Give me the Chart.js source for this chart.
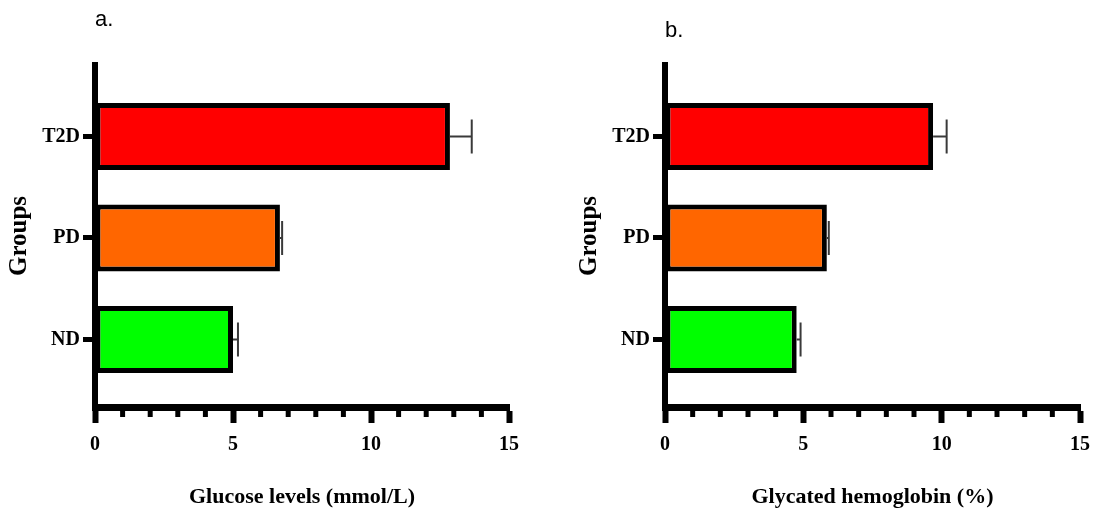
<!DOCTYPE html>
<html><head><meta charset="utf-8">
<script src="https://cdn.jsdelivr.net/npm/chart.js@4.4.0/dist/chart.umd.min.js"></script>
<style>
html,body{margin:0;padding:0;background:#fff;}
#wrap{position:relative;width:1095px;height:514px;overflow:hidden;}
.box{position:absolute;top:0;height:514px;}
#boxA{left:0;width:529px}
#boxB{left:570px;width:530px}
</style></head><body>
<div id="wrap">
  <div class="box" id="boxA"><canvas id="cA" width="529" height="514"></canvas></div>
  <div class="box" id="boxB"><canvas id="cB" width="530" height="514"></canvas></div>
</div>
<script>
// ---- data ----
const groups = ['ND', 'PD', 'T2D'];
const barColors = ['#00FF00', '#FF6600', '#FF0000'];
const glucoseMean = [5.0, 6.70, 12.86];
const glucoseSD = [0.18, 0.08, 0.79];
const hba1cMean = [4.76, 5.85, 9.69];
const hba1cSD = [0.14, 0.07, 0.49];
const xMin = 0, xMax = 15, xMajorStep = 5;

const serif = "'Liberation Serif', 'Times New Roman', serif";
const sans = "'Liberation Sans', Arial, sans-serif";

const errorBarPlugin = {
  id: 'errorBars',
  afterDatasetsDraw(chart, args, opts) {
    const meta = chart.getDatasetMeta(0);
    const xs = chart.scales.x;
    const ctx = chart.ctx;
    ctx.save();
    ctx.strokeStyle = opts.color;
    ctx.lineWidth = opts.width;
    meta.data.forEach((bar, i) => {
      const v = chart.data.datasets[0].data[i].x;
      const end = xs.getPixelForValue(v + opts.sd[i]);
      ctx.beginPath();
      ctx.moveTo(bar.x, bar.y);
      ctx.lineTo(end, bar.y);
      ctx.moveTo(end, bar.y - opts.cap);
      ctx.lineTo(end, bar.y + opts.cap);
      ctx.stroke();
    });
    ctx.restore();
  }
};

const minorTickPlugin = {
  id: 'minorTicks',
  afterDraw(chart, args, opts) {
    const xs = chart.scales.x;
    const b = chart.chartArea.bottom;
    const ctx = chart.ctx;
    ctx.save();
    ctx.strokeStyle = '#000';
    ctx.lineWidth = opts.width;
    for (let v = xs.min; v <= xs.max; v++) {
      if (v % xMajorStep === 0) continue;
      const px = xs.getPixelForValue(v);
      ctx.beginPath();
      ctx.moveTo(px, b);
      ctx.lineTo(px, b + opts.length);
      ctx.stroke();
    }
    ctx.restore();
  }
};

function makeChart(id, panel, means, sds, xTitle, titlePad) {
  return new Chart(document.getElementById(id), {
    type: 'bar',
    data: {
      datasets: [{
        data: groups.map((g, i) => ({ y: i, x: means[i] })),
        backgroundColor: barColors,
        borderColor: '#000',
        borderWidth: 5,
        borderSkipped: false,
        categoryPercentage: 1,
        barPercentage: 0.66
      }]
    },
    options: {
      indexAxis: 'y',
      responsive: false,
      animation: false,
      layout: { padding: { left: 0, right: 0, top: 0, bottom: 0 } },
      plugins: {
        legend: { display: false },
        tooltip: { enabled: false },
        title: {
          display: true, text: panel, align: 'start', fullSize: false,
          color: '#000', font: { family: sans, size: 22, weight: 'normal' },
          padding: titlePad
        },
        errorBars: { sd: sds, color: '#3a3a3a', width: 2, cap: 17 },
        minorTicks: { width: 5, length: 10 }
      },
      scales: {
        x: {
          type: 'linear', min: xMin, max: xMax,
          ticks: { stepSize: xMajorStep, autoSkip: false, maxRotation: 0, padding: 10,
                   color: '#000', font: { family: serif, size: 20, weight: 'bold' } },
          grid: { drawOnChartArea: false, drawTicks: true, tickLength: 16, tickWidth: 6, tickColor: '#000' },
          border: { display: true, color: '#000', width: 7 },
          title: { display: true, text: xTitle, color: '#000',
                   font: { family: serif, size: 22, weight: 'bold' }, padding: { top: 0, bottom: 3 } },
          afterFit: s => { s.height = 107; }
        },
        y: {
          type: 'linear', min: -0.665, max: 2.704, offset: false,
          afterBuildTicks: s => { s.ticks = groups.map((g, i) => ({ value: i })); },
          ticks: { callback: v => groups[v], padding: 3, color: '#000',
                   font: { family: serif, size: 20, weight: 'bold' } },
          grid: { drawOnChartArea: false, drawTicks: true, tickLength: 12, tickWidth: 5, tickColor: '#000', offset: false },
          border: { display: true, color: '#000', width: 6 },
          title: { display: true, text: 'Groups', color: '#000',
                   font: { family: serif, size: 25, weight: 'bold' }, padding: { top: 5, bottom: 0 } },
          afterFit: s => { s.width = 95; }
        }
      }
    },
    plugins: [errorBarPlugin, minorTickPlugin]
  });
}

makeChart('cA', 'a.', glucoseMean, glucoseSD, 'Glucose levels (mmol/L)', { top: 7, bottom: 31.6 });
makeChart('cB', 'b.', hba1cMean, hba1cSD, 'Glycated hemoglobin (%)', { top: 18, bottom: 20.6 });
</script>
</body></html>
